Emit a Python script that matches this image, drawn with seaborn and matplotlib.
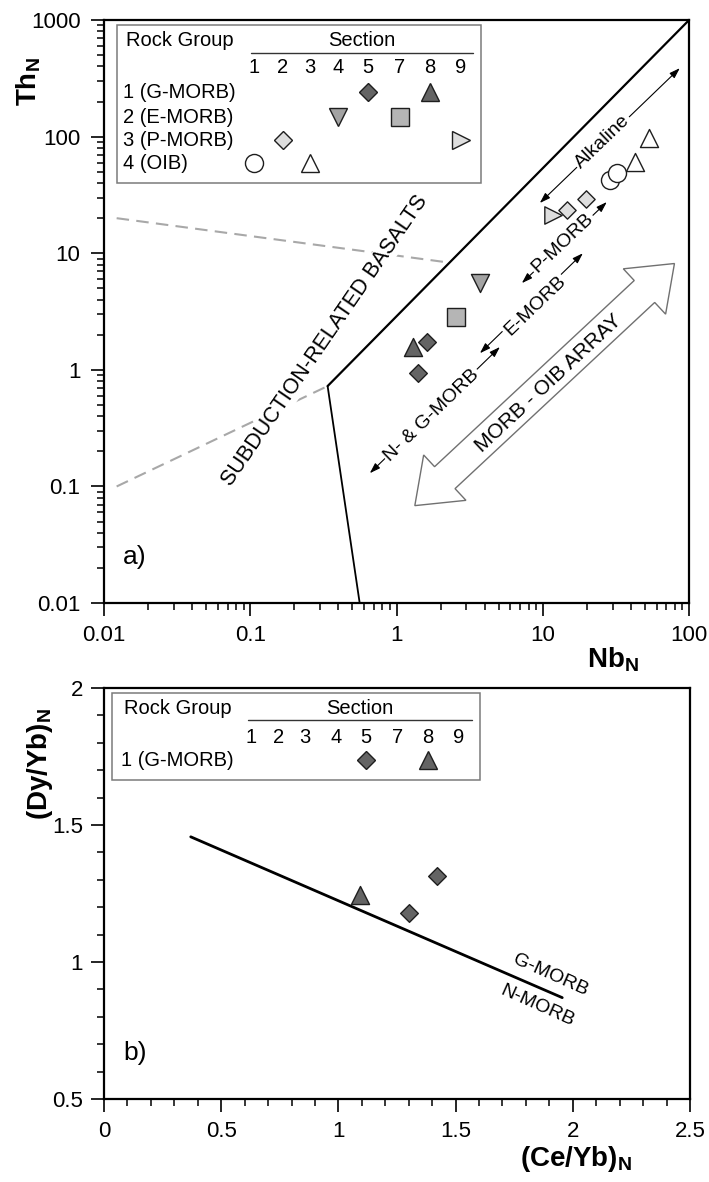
import numpy as np
import pandas as pd
import matplotlib
matplotlib.use('Agg')
import matplotlib.pyplot as plt
import seaborn as sns
from matplotlib.patches import Polygon, Rectangle
from matplotlib.transforms import Affine2D, ScaledTranslation
from matplotlib.ticker import FuncFormatter, MultipleLocator, LogLocator, NullFormatter

sns.set_style('ticks')
plt.rcParams['font.family'] = ['Liberation Sans', 'DejaVu Sans']
plt.rcParams['mathtext.fontset'] = 'custom'
plt.rcParams['mathtext.rm'] = 'Liberation Sans'
plt.rcParams['mathtext.bf'] = 'Liberation Sans:bold'
plt.rcParams['text.color'] = 'black'
plt.rcParams['axes.labelcolor'] = 'black'
plt.rcParams['xtick.color'] = 'black'
plt.rcParams['ytick.color'] = 'black'

# ---- panel a) Th_N vs Nb_N
nb_n = [1.29, 1.61, 1.40, 2.55, 3.72, 11.7, 14.6, 19.7, 28.8, 32.1, 42.7, 53.1]
th_n = [1.57, 1.73, 0.94, 2.84, 5.55, 21.3, 23.4, 29.2, 42.5, 48.8, 60.5, 97.3]
group_a = [1, 1, 1, 2, 2, 3, 3, 3, 4, 4, 4, 4]
section_a = [8, 5, 5, 7, 4, 9, 2, 2, 1, 1, 3, 3]

# ---- panel b) (Dy/Yb)_N vs (Ce/Yb)_N
ce_yb = [1.09, 1.30, 1.42]
dy_yb = [1.245, 1.18, 1.315]
group_b = [1, 1, 1]
section_b = [8, 5, 5]

# boundary lines
subd_x = [0.338, 100]
subd_y = [0.726, 1000]
subd_low_x = [0.338, 0.56]
subd_low_y = [0.726, 0.01]
dash1_x = [0.0122, 0.338]
dash1_y = [0.1, 0.726]
dash2_x = [0.0122, 2.32]
dash2_y = [20, 8.3]
morb_x = [0.37, 1.955]
morb_y = [1.457, 0.87]

sections = [1, 2, 3, 4, 5, 7, 8, 9]
group_names = ['1 (G-MORB)', '2 (E-MORB)', '3 (P-MORB)', '4 (OIB)']

# marker, fill, size per (rock group, section)
symbols = {
    (1, 5): ('D', '#646464', 9),
    (1, 8): ('^', '#646464', 13),
    (2, 4): ('v', '#a3a3a3', 13),
    (2, 7): ('s', '#b5b5b5', 12.5),
    (3, 2): ('D', '#dedede', 8.8),
    (3, 9): ('>', '#dedede', 12.5),
    (4, 1): ('o', 'white', 13),
    (4, 3): ('^', 'white', 13),
}
EDGE = '#1e1e1e'

fig = plt.figure(figsize=(7.09, 11.82), dpi=100)
ax1 = fig.add_axes([0.1467, 0.4898, 0.8251, 0.4932])
ax2 = fig.add_axes([0.1467, 0.0702, 0.8265, 0.3477])


def style_axes(ax, ypad):
    for sp in ax.spines.values():
        sp.set_linewidth(1.6)
        sp.set_color('black')
    ax.tick_params(which='major', direction='out', length=9.5, width=1.2,
                   labelsize=16, top=False, right=False, color='black')
    ax.tick_params(which='minor', direction='out', length=5, width=1.1,
                   top=False, right=False, color='black')
    ax.tick_params(axis='x', which='major', pad=6)
    ax.tick_params(axis='y', which='major', pad=ypad)
    ax.grid(False)


def draw_points(ax, df, x, y):
    for (g, s), sub in df.groupby(['group', 'section']):
        m, c, ms = symbols[(g, s)]
        sns.scatterplot(data=sub, x=x, y=y, marker=m, color=c, s=ms ** 2,
                        edgecolor=EDGE, linewidth=1.0, ax=ax, zorder=6,
                        legend=False)


def section_key(ax, box, text_x, head_y, rule_x, rule_y, num_y, col_x,
                row_y, rows, marks):
    x0, y0, x1, y1 = box
    ax.add_patch(Rectangle((x0, y0), x1 - x0, y1 - y0, transform=ax.transAxes,
                           fc='white', ec='#7a7a7a', lw=1.1, zorder=8))
    kw = dict(transform=ax.transAxes, va='center', fontsize=14.5, zorder=9)
    ax.text(text_x + 0.005, head_y, 'Rock Group', ha='left', **kw)
    ax.text(sum(rule_x) / 2, head_y, 'Section', ha='center', **kw)
    ax.plot(rule_x, [rule_y, rule_y], transform=ax.transAxes, color='#333333',
            lw=1, zorder=9)
    for cx, s in zip(col_x, sections):
        ax.text(cx, num_y, str(s), ha='center', **kw)
    for name, ry in zip(rows, row_y):
        ax.text(text_x, ry, name, ha='left', **kw)
    for g, s in marks:
        m, c, ms = symbols[(g, s)]
        ax.plot(col_x[sections.index(s)], row_y[g - 1], marker=m, ms=ms,
                mfc=c, mec=EDGE, mew=1.0, transform=ax.transAxes, zorder=10,
                clip_on=False)


def arrow_label(ax, p0, p1, text, tpos, rot):
    ax.annotate('', xy=p1, xytext=p0,
                arrowprops=dict(arrowstyle='<|-|>,head_length=0.45,head_width=0.15',
                                color='black', lw=0.8, shrinkA=0, shrinkB=0,
                                mutation_scale=14), zorder=3)
    ax.text(tpos[0], tpos[1], text, rotation=rot, ha='center', va='center',
            rotation_mode='anchor', fontsize=14, zorder=4,
            bbox=dict(fc='white', ec='none', pad=1.2))


# ---------------- panel a
ax1.set(xscale='log', yscale='log')
ax1.plot(subd_x, subd_y, color='black', lw=1.6, zorder=2)
ax1.plot(subd_low_x, subd_low_y, color='black', lw=1.3, zorder=2)
ax1.plot(dash1_x, dash1_y, color='#a8a8a8', lw=1.5, dashes=(6, 3.5), zorder=1)
ax1.plot(dash2_x, dash2_y, color='#a8a8a8', lw=1.5, dashes=(6, 3.5), zorder=1)

df_a = pd.DataFrame({'Nb': nb_n, 'Th': th_n, 'group': group_a, 'section': section_a})
draw_points(ax1, df_a, 'Nb', 'Th')

ax1.set_xlim(0.01, 100)
ax1.set_ylim(0.01, 1000)

# MORB - OIB array (hollow double arrow), size in pixels
L, hl, hw, sw = 177.5, 41, 31, 15
shape = [(-L, 0), (-L + hl, hw), (-L + hl, sw), (L - hl, sw), (L - hl, hw),
         (L, 0), (L - hl, -hw), (L - hl, -sw), (-L + hl, -sw), (-L + hl, -hw)]
tr = Affine2D().rotate_deg(43) + ScaledTranslation(10.3, 0.748, ax1.transData)
ax1.add_patch(Polygon(shape, closed=True, transform=tr, fc='white',
                      ec='#707070', lw=1.0, zorder=3))
ax1.text(10.9, 0.77, 'MORB - OIB ARRAY', rotation=43, ha='center', va='center',
         rotation_mode='anchor', fontsize=15, zorder=4)

arrow_label(ax1, (9.55, 27.0), (86.5, 387), 'Alkaline', (25.8, 90), 44)
arrow_label(ax1, (7.2, 5.55), (27.4, 27.5), 'P-MORB', (13.7, 12.2), 43.6)
arrow_label(ax1, (3.72, 1.39), (18.8, 10.0), 'E-MORB', (8.83, 3.52), 44)
arrow_label(ax1, (0.657, 0.130), (5.09, 1.57), 'N- & G-MORB', (1.75, 0.409), 44)

ax1.text(0.324, 1.77, 'SUBDUCTION-RELATED BASALTS', rotation=55.5,
         ha='center', va='center', rotation_mode='anchor', fontsize=15.5,
         zorder=2, bbox=dict(fc='white', ec='none', pad=0.5))
ax1.text(0.033, 0.079, 'a)', transform=ax1.transAxes, fontsize=19,
         ha='left', va='center')

fmt = FuncFormatter(lambda v, p: f'{v:g}')
for axis in (ax1.xaxis, ax1.yaxis):
    axis.set_major_locator(LogLocator(base=10, numticks=12))
    axis.set_minor_locator(LogLocator(base=10, subs=np.arange(2, 10), numticks=12))
    axis.set_major_formatter(fmt)
    axis.set_minor_formatter(NullFormatter())
style_axes(ax1, 7.5)
ax1.set_xlabel(r'$\mathbf{Nb_N}$', fontsize=20, labelpad=0)
ax1.xaxis.label.set_x(0.87)
ax1.set_ylabel(r'$\mathbf{Th_N}$', fontsize=20, va='center')
ax1.yaxis.set_label_coords(-0.128, 0.895)

section_key(ax1, (0.0222, 0.7204, 0.6444, 0.9914), 0.0325, 0.9657,
            [0.2513, 0.6308], 0.9434, 0.9194,
            [0.2564, 0.3060, 0.3521, 0.4000, 0.4513, 0.5060, 0.5573, 0.6103],
            [0.8765, 0.8336, 0.7942, 0.7547], group_names,
            [(1, 5), (1, 8), (2, 4), (2, 7), (3, 2), (3, 9), (4, 1), (4, 3)])

# ---------------- panel b
ax2.plot(morb_x, morb_y, color='black', lw=2.0, zorder=2)
df_b = pd.DataFrame({'Ce': ce_yb, 'Dy': dy_yb, 'group': group_b, 'section': section_b})
draw_points(ax2, df_b, 'Ce', 'Dy')
ax2.set_xlim(0, 2.5)
ax2.set_ylim(0.5, 2)
ax2.text(1.905, 0.951, 'G-MORB', rotation=-24, ha='center', va='center',
         rotation_mode='anchor', fontsize=14)
ax2.text(1.847, 0.839, 'N-MORB', rotation=-24, ha='center', va='center',
         rotation_mode='anchor', fontsize=14)
ax2.text(0.033, 0.112, 'b)', transform=ax2.transAxes, fontsize=19,
         ha='left', va='center')

ax2.xaxis.set_major_locator(MultipleLocator(0.5))
ax2.xaxis.set_minor_locator(MultipleLocator(0.1))
ax2.yaxis.set_major_locator(MultipleLocator(0.5))
ax2.yaxis.set_minor_locator(MultipleLocator(0.1))
ax2.xaxis.set_major_formatter(fmt)
ax2.yaxis.set_major_formatter(fmt)
style_axes(ax2, 5.5)
ax2.set_xlabel(r'$\mathbf{(Ce/Yb)_N}$', fontsize=20, labelpad=2)
ax2.xaxis.label.set_x(0.806)
ax2.set_ylabel(r'$\mathbf{(Dy/Yb)_N}$', fontsize=20, va='center')
ax2.yaxis.set_label_coords(-0.11, 0.815)

section_key(ax2, (0.0137, 0.776, 0.6416, 0.9878), 0.0285, 0.9513,
            [0.2457, 0.628], 0.9221, 0.8808,
            [(p - 104) / 586 for p in [251, 279, 305, 336, 366, 398, 428, 459]],
            [0.8248], group_names[:1], [(1, 5), (1, 8)])

fig.savefig('out.png', dpi=100)
